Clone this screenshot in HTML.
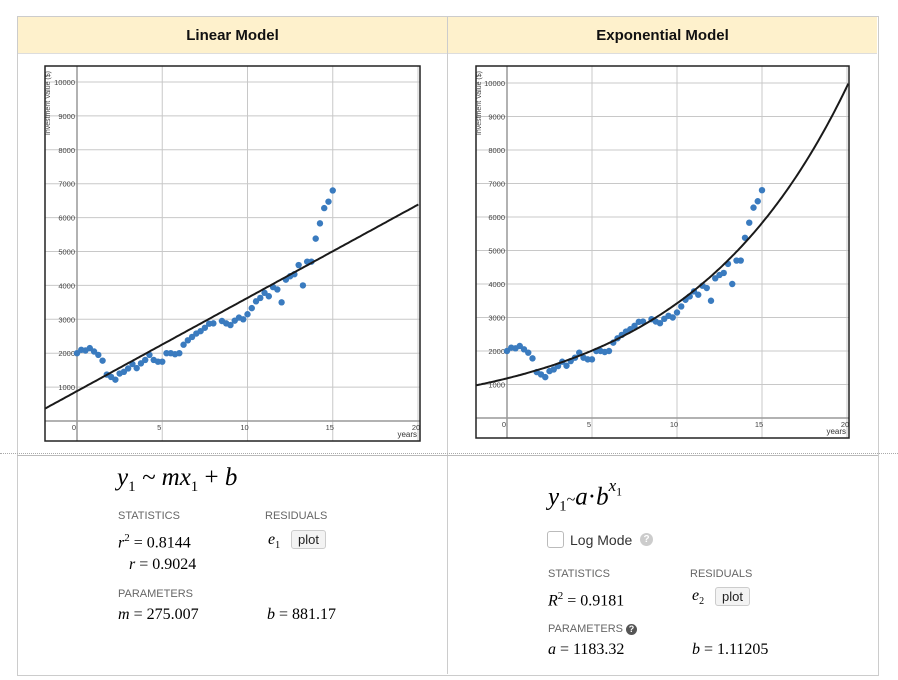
<!DOCTYPE html>
<html><head><meta charset="utf-8"><style>
body{margin:0;width:898px;height:680px;background:#fff;font-family:"Liberation Sans",sans-serif;position:relative;overflow:hidden}
.abs{position:absolute}
.hdr{position:absolute;top:17px;height:36px;background:#fef1cc;border-bottom:1px solid #ddd;font-weight:bold;font-size:15px;line-height:38px;text-align:center;color:#111}
.m{font-family:"Liberation Serif",serif;font-style:italic}
.n{font-family:"Liberation Serif",serif}
.lab{position:absolute;font-size:11px;color:#666}
.btn{position:absolute;border:1px solid #ccc;border-radius:3px;background:#f3f3f3;font-size:13px;padding:1px 6px;color:#222}
</style></head><body>
<div class="abs" style="left:17px;top:16px;width:860px;height:658px;border:1px solid #ccc"></div>
<div class="abs" style="left:447px;top:16px;width:1px;height:658px;background:#ccc"></div>
<div class="hdr" style="left:18px;width:429px">Linear Model</div>
<div class="hdr" style="left:448px;width:429px">Exponential Model</div>
<div class="abs" style="left:0;top:453px;width:898px;border-top:1px dotted #aaa"></div>
<div class="abs" style="left:17px;top:455px;width:861px;height:1px;background:#bbb"></div>
<svg id="s1" class="abs" style="left:0;top:0" width="898" height="680"></svg>

<div class="abs m" style="left:117px;top:464px;font-size:25px">y<sub style="font-size:15px;font-style:normal">1</sub> ~ mx<sub style="font-size:15px;font-style:normal">1</sub> <span style="font-style:normal">+</span> b</div>
<div class="lab" style="left:118px;top:510px">STATISTICS</div>
<div class="lab" style="left:265px;top:510px">RESIDUALS</div>
<div class="abs n" style="left:118px;top:532px;font-size:16px"><i>r</i><sup style="font-size:11px">2</sup> = 0.8144</div>
<div class="abs n" style="left:129px;top:556px;font-size:16px"><i>r</i> = 0.9024</div>
<div class="abs n" style="left:268px;top:531px;font-size:16px"><i>e</i><sub style="font-size:10px">1</sub></div>
<div class="btn" style="left:291px;top:530px">plot</div>
<div class="lab" style="left:118px;top:588px">PARAMETERS</div>
<div class="abs n" style="left:118px;top:606px;font-size:16px"><i>m</i> = 275.007</div>
<div class="abs n" style="left:267px;top:606px;font-size:16px"><i>b</i> = 881.17</div>

<div class="abs m" style="left:548px;top:480px;font-size:25px">y<sub style="font-size:15px;font-style:normal">1</sub><span style="font-style:normal;font-size:16px">~</span>a<span style="font-style:normal">·</span>b<sup style="font-size:17px;position:relative;top:-4px">x<sub style="font-size:12px;font-style:normal">1</sub></sup></div>
<div class="abs" style="left:547px;top:531px;width:15px;height:15px;border:1px solid #bbb;border-radius:3px"></div>
<div class="abs" style="left:570px;top:532px;font-size:14px;color:#333">Log Mode</div>
<div class="abs" style="left:640px;top:533px;width:13px;height:13px;border-radius:50%;background:#ccc;color:#fff;font-size:10px;text-align:center;line-height:13px;font-weight:bold">?</div>
<div class="lab" style="left:548px;top:568px">STATISTICS</div>
<div class="lab" style="left:690px;top:568px">RESIDUALS</div>
<div class="abs n" style="left:548px;top:590px;font-size:16px"><i>R</i><sup style="font-size:11px">2</sup> = 0.9181</div>
<div class="abs n" style="left:692px;top:587px;font-size:16px"><i>e</i><sub style="font-size:10px">2</sub></div>
<div class="btn" style="left:715px;top:587px">plot</div>
<div class="lab" style="left:548px;top:623px">PARAMETERS <span style="display:inline-block;width:11px;height:11px;border-radius:50%;background:#555;color:#fff;font-size:9px;text-align:center;line-height:11px;font-weight:bold">?</span></div>
<div class="abs n" style="left:548px;top:641px;font-size:16px"><i>a</i> = 1183.32</div>
<div class="abs n" style="left:692px;top:641px;font-size:16px"><i>b</i> = 1.11205</div>

<script>
var D=[[0,2000],[.25,2100],[.5,2080],[.75,2150],[1,2050],[1.25,1950],[1.5,1780],[1.75,1370],[2,1300],[2.25,1220],[2.5,1400],[2.75,1450],[3,1550],[3.25,1680],[3.5,1560],[3.75,1700],[4,1800],[4.25,1950],[4.5,1800],[4.75,1750],[5,1750],[5.25,2000],[5.5,2000],[5.75,1970],[6,2000],[6.25,2250],[6.5,2380],[6.75,2480],[7,2580],[7.25,2650],[7.5,2750],[7.75,2870],[8,2880],[8.5,2950],[8.75,2880],[9,2830],[9.25,2960],[9.5,3050],[9.75,3000],[10,3150],[10.25,3330],[10.5,3530],[10.75,3630],[11,3780],[11.25,3680],[11.5,3950],[11.75,3880],[12,3500],[12.25,4170],[12.5,4270],[12.75,4330],[13,4600],[13.25,4000],[13.5,4700],[13.75,4700],[14,5380],[14.25,5830],[14.5,6280],[14.75,6470],[15,6800]];
var h='';
function plot(L,T,R,B,x0,x20,y0,y10k,f){
 var sx=(x20-x0)/20,sy=(y0-y10k)/10000;
 function X(v){return x0+v*sx}function Y(v){return y0-v*sy}
 h+='<defs><clipPath id="c'+L+'"><rect x="'+L+'" y="'+T+'" width="'+(R-L)+'" height="'+(B-T)+'"/></clipPath></defs><g clip-path="url(#c'+L+')">';
 for(var i=1;i<=10;i++)h+='<line x1="'+L+'" x2="'+R+'" y1="'+Y(i*1000)+'" y2="'+Y(i*1000)+'" stroke="#c8c8c8" stroke-width="1"/>';
 for(var i=5;i<=20;i+=5)h+='<line y1="'+T+'" y2="'+B+'" x1="'+X(i)+'" x2="'+X(i)+'" stroke="#c8c8c8" stroke-width="1"/>';
 h+='<line x1="'+L+'" x2="'+R+'" y1="'+y0+'" y2="'+y0+'" stroke="#999" stroke-width="1.5"/>';
 h+='<line x1="'+x0+'" x2="'+x0+'" y1="'+T+'" y2="'+B+'" stroke="#999" stroke-width="1.5"/>';
 for(var i=1;i<=10;i++)h+='<text x="'+(x0-2)+'" y="'+(Y(i*1000)+3)+'" font-size="7.5" fill="#444" text-anchor="end" font-family="Liberation Sans">'+i*1000+'</text>';
 for(var i=0;i<=20;i+=5)h+='<text x="'+(X(i)-(i==20?2:3))+'" y="'+(y0+9)+'" font-size="7.5" fill="#444" text-anchor="middle" font-family="Liberation Sans">'+i+'</text>';
 h+='<text x="'+(R-3)+'" y="'+(B-4)+'" font-size="8" fill="#333" text-anchor="end" font-family="Liberation Sans">years</text>';
 h+='<text transform="translate('+(L+5)+','+(T+5)+') rotate(-90)" font-size="7" fill="#444" text-anchor="end" font-family="Liberation Sans">Investment Value ($)</text>';
 D.forEach(function(p){h+='<circle cx="'+X(p[0])+'" cy="'+Y(p[1])+'" r="3.2" fill="#3a7bbf"/>'});
 var pts=[];for(var v=(L-x0)/sx;v<=20.1;v+=0.1)pts.push(X(v).toFixed(1)+','+Y(f(v)).toFixed(1));
 h+='<polyline points="'+pts.join(' ')+'" fill="none" stroke="#1a1a1a" stroke-width="2"/></g>';
 h+='<rect x="'+L+'" y="'+T+'" width="'+(R-L)+'" height="'+(B-T)+'" fill="none" stroke="#222" stroke-width="1.5"/>';
}
plot(45,66,420,441,77,418,421,82,function(x){return 275.007*x+881.17});
plot(476,66,849,438,507,847,418,83,function(x){return 1183.32*Math.pow(1.11205,x)});
document.getElementById('s1').innerHTML=h;
</script>
</body></html>
